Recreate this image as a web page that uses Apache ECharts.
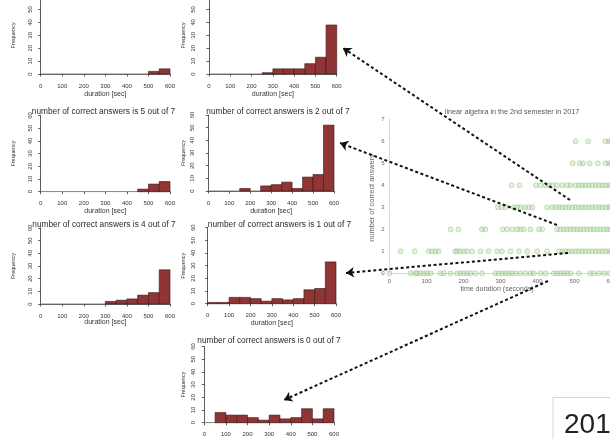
<!DOCTYPE html>
<html><head><meta charset="utf-8">
<script src="https://cdn.jsdelivr.net/npm/echarts@6/dist/echarts.min.js"></script>
<style>html,body{margin:0;padding:0;background:#fff}#c{width:610px;height:439px}</style>
</head><body><div id="c"></div>
<script>
// ---------- data ----------
const binEdges = [0,50,100,150,200,250,300,350,400,450,500,550,600];
const durationTicks = [0,100,200,300,400,500,600];
const freqTicks = [0,10,20,30,40,50,60];
const counts6 = [0,0,0,0,0,0,0,0,0,0,2,4];
const counts3 = [0,0,0,0,0,1,4,4,4,8,13,38];
const counts5 = [0,0,0,0,0,0,0,0,0,2,6,8];
const counts2 = [0,0,0,2,0,4,5,7,2,11,13,52];
const counts4 = [0,0,0,0,0,0,2,3,4,7,9,27];
const counts1 = [1,1,5,5,4,2,4,3,4,11,12,33];
const counts0 = [0,8,6,6,4,2,6,3,4,11,3,11];
const panelTitles = {
  6:'number of correct answers is 6 out of 7', 3:'number of correct answers is 3 out of 7',
  5:'number of correct answers is 5 out of 7', 2:'number of correct answers is 2 out of 7',
  4:'number of correct answers is 4 out of 7', 1:'number of correct answers is 1 out of 7',
  0:'number of correct answers is 0 out of 7'
};
// scatter: durations (sec) per number of correct answers
const answers6 = [503,537,583,593,599];
const answers5 = [495,514,523,541,563,584,593,599];
const answers4 = [330,351,396,408,422,431,441,453,467,480,489,503,512,521,530,539,548,557,566,575,584,593,599];
const answers3 = [293,303,314,336,345,354,366,377,386,426,440,449,458,467,476,485,494,503,512,521,530,539,548,557,566,575,584,593,599];
const answers2 = [165,186,250,259,306,318,332,345,354,363,381,404,413,453,462,471,480,489,498,507,516,525,534,543,552,561,570,579,588,596];
const answers1 = [30,68,106,115,124,133,178,183,192,201,210,223,246,268,291,304,327,350,372,399,426,458,467,476,485,494,503,512,521,530,539,548,557,566,575,584,593,599];
const answers0 = [0,57,70,75,84,93,102,111,138,147,165,183,192,201,210,219,232,250,286,295,305,314,323,331,341,354,368,381,390,408,422,444,453,462,471,480,489,512,543,552,566,580,593];
const scatterRows = [answers0,answers1,answers2,answers3,answers4,answers5,answers6];
const scatterXTicks = [0,100,200,300,400,500,600];
const scatterYTicks = [0,1,2,3,4,5,6,7];

// ---------- layout (pixels) ----------
const panels = [
  {k:6, counts:counts6, x0:40.7, x1:170, base:74, h:77.4, yoff:5.7, lm:2, tx:105, ty:-13, fx:13, dy:94},
  {k:3, counts:counts3, x0:209, x1:336.7, base:74, h:77.4, yoff:8, lm:5, tx:273, ty:-13, fx:183, dy:94},
  {k:5, counts:counts5, x0:40.7, x1:170, base:191.7, h:76.2, yoff:5.5, lm:2, tx:103.5, ty:111.7, fx:13, dy:211.5},
  {k:2, counts:counts2, x0:208.3, x1:334, base:191, h:76, yoff:9, lm:4, tx:278, ty:111.7, fx:183, dy:211.5},
  {k:4, counts:counts4, x0:40.7, x1:170, base:304, h:76, yoff:5, lm:2, tx:104, ty:225, fx:13, dy:322},
  {k:1, counts:counts1, x0:207.7, x1:336, base:303.7, h:76, yoff:7, lm:4, tx:279.5, ty:225, fx:183, dy:323},
  {k:0, counts:counts0, x0:204.3, x1:334, base:422.7, h:76.2, yoff:4, lm:4, tx:269, ty:340.7, fx:183, dy:446}
];
const FONT = 'Liberation Sans, Arial, sans-serif';
const grids = [], xAxes = [], yAxes = [], series = [], graphics = [];

panels.forEach((p, i) => {
  grids.push({left:p.x0, top:p.base - p.h, width:p.x1 - p.x0, height:p.h, containLabel:false, outerBoundsMode:'none'});
  xAxes.push({gridIndex:i, type:'value', min:0, max:600, interval:100, offset:4,
    axisLine:{show:true, lineStyle:{color:'#333', width:0.8}},
    axisTick:{show:true, length:2.5, lineStyle:{color:'#333', width:0.8}},
    axisLabel:{fontSize:6, color:'#333', margin:5, fontFamily:FONT, showMinLabel:true, showMaxLabel:true},
    splitLine:{show:false}});
  yAxes.push({gridIndex:i, type:'value', min:0, max:60, interval:10, offset:p.yoff,
    axisLine:{show:true, lineStyle:{color:'#333', width:0.8}},
    axisTick:{show:true, length:2.5, lineStyle:{color:'#333', width:0.8}},
    axisLabel:{fontSize:6, color:'#333', margin:p.lm, rotate:90, fontFamily:FONT, showMinLabel:true, showMaxLabel:true},
    splitLine:{show:false}});
  series.push({type:'line', xAxisIndex:i, yAxisIndex:i, data:[[binEdges[0],0],[binEdges[binEdges.length-1],0]],
    symbol:'none', silent:true, lineStyle:{color:'#8a8a8a', width:1.2}, z:1});
  series.push({type:'custom', xAxisIndex:i, yAxisIndex:i, z:2,
    data:p.counts.map((c, j) => [binEdges[j], binEdges[j+1], c]),
    encode:{x:[0,1], y:2},
    renderItem:(params, api) => {
      const c = api.value(2);
      if (!c) return null;
      const a = api.coord([api.value(0), c]);
      const b = api.coord([api.value(1), 0]);
      return {type:'rect', shape:{x:a[0], y:a[1], width:b[0]-a[0], height:b[1]-a[1]},
        style:{fill:'#8f3535', stroke:'#3b1414', lineWidth:0.6}};
    }});
  graphics.push({type:'text', x:p.tx, y:p.ty, style:{text:panelTitles[p.k], fontSize:8.3, fontFamily:FONT, fill:'#2a2a2a', align:'center', verticalAlign:'middle'}});
  graphics.push({type:'text', x:p.fx, y:p.base - p.h/2, rotation:Math.PI/2, style:{text:'Frequency', fontSize:5.5, fontFamily:FONT, fill:'#333', align:'center', verticalAlign:'middle'}});
  graphics.push({type:'text', x:(p.x0+p.x1)/2, y:p.dy, style:{text:'duration [sec]', fontSize:7, fontFamily:FONT, fill:'#333', align:'center', verticalAlign:'middle'}});
});

// scatter grid
const si = panels.length;
grids.push({left:389.5, top:119.3, width:222, height:154, containLabel:false, outerBoundsMode:'none'});
xAxes.push({gridIndex:si, type:'value', min:0, max:600, interval:100,
  axisLine:{show:true, lineStyle:{color:'#d9d9d9', width:1}}, axisTick:{show:false},
  axisLabel:{fontSize:6, color:'#666', margin:5, fontFamily:FONT}, splitLine:{show:false}});
yAxes.push({gridIndex:si, type:'value', min:0, max:7, interval:1,
  axisLine:{show:true, lineStyle:{color:'#d9d9d9', width:1}}, axisTick:{show:false},
  axisLabel:{fontSize:6, color:'#666', margin:5, fontFamily:FONT}, splitLine:{show:false}});
const scatterData = [];
scatterRows.forEach((row, n) => row.forEach(x => scatterData.push([x, n])));
series.push({type:'scatter', xAxisIndex:si, yAxisIndex:si, data:scatterData, symbolSize:5, z:3, clip:false,
  itemStyle:{color:'rgba(175,218,155,0.45)', borderColor:'rgba(105,170,90,0.6)', borderWidth:0.7}});
graphics.push({type:'text', x:512, y:111.7, style:{text:'linear algebra in the 2nd semester in 2017', fontSize:7.2, fontFamily:FONT, fill:'#555', align:'center', verticalAlign:'middle'}});
graphics.push({type:'text', x:372, y:198, rotation:Math.PI/2, style:{text:'number of correct answers', fontSize:7.4, fontFamily:FONT, fill:'#666', align:'center', verticalAlign:'middle'}});
graphics.push({type:'text', x:497, y:289, style:{text:'time duration (seconds)', fontSize:7, fontFamily:FONT, fill:'#666', align:'center', verticalAlign:'middle'}});

// overlay grid for arrows
const oi = si + 1;
grids.push({left:0, top:0, width:610, height:439, containLabel:false, outerBoundsMode:'none'});
xAxes.push({gridIndex:oi, type:'value', min:0, max:610, show:false});
yAxes.push({gridIndex:oi, type:'value', min:0, max:439, inverse:true, show:false});
const arrowFrom = [[570,200],[557,225],[568,253],[548,281]];
const arrowTo = [[343,48],[340,143],[346,273],[284,400]];
series.push({type:'lines', coordinateSystem:'cartesian2d', xAxisIndex:oi, yAxisIndex:oi, z:10, silent:true,
  symbol:['none','arrow'], symbolSize:8,
  lineStyle:{color:'#111', width:2, type:[3,2.5], opacity:1},
  data:arrowFrom.map((f, i) => ({coords:[f, arrowTo[i]]}))});

// slide box with year
graphics.push({type:'rect', shape:{x:553, y:397.5, width:80, height:60}, style:{fill:'#fff', stroke:'#d6d6d6', lineWidth:1}, z:-1});
graphics.push({type:'text', x:564, y:425, style:{text:'2017', fontSize:28, fontFamily:FONT, fill:'#222', align:'left', verticalAlign:'middle'}});

const chart = echarts.init(document.getElementById('c'), null, {renderer:'canvas'});
chart.setOption({animation:false, backgroundColor:'#fff', grid:grids, xAxis:xAxes, yAxis:yAxes, series, graphic:graphics});
</script></body></html>
